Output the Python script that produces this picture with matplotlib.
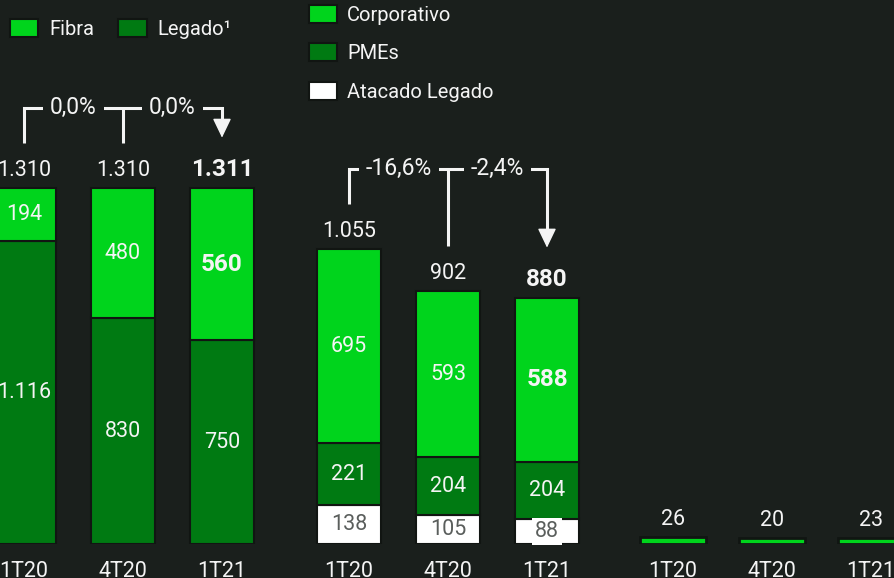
import matplotlib
matplotlib.use('Agg')
import matplotlib.pyplot as plt

# dados
quarters = ['1T20', '4T20', '1T21']
fibra = [194, 480, 560]
legado = [1116, 830, 750]
totais_fibra = [1310, 1310, 1311]
var_fibra = ['0,0%', '0,0%']

corporativo = [695, 593, 588]
pmes = [221, 204, 204]
atacado = [138, 105, 88]
totais_b2b = [1055, 902, 880]
var_b2b = ['-16,6%', '-2,4%']

outros = [26, 20, 23]

BG = '#1a1f1c'
VERDE = '#00d41c'
VERDE_ESC = '#007a12'
BRANCO = '#f4f4f4'
CINZA = '#5a5e5c'
BORDA = '#111512'

FS = 15.5       # normal labels
FS_B = 17.5     # bold labels

plt.rcParams['font.family'] = ['Roboto', 'DejaVu Sans']

W, H = 894, 578
fig = plt.figure(figsize=(W / 100, H / 100), dpi=100, facecolor=BG)


def make_ax(center_px, scale):
    # baseline at 544px from the top, 99px between bars
    bottom = H - 544
    left = center_px - 49.5
    ax = fig.add_axes([left / W, bottom / H, 297 / W, (H - bottom) / H])
    ax.set_facecolor('none')
    ax.set_xlim(-0.5, 2.5)
    ax.set_ylim(0, (H - bottom) / scale)
    for s in ax.spines.values():
        s.set_visible(False)
    ax.set_yticks([])
    ax.set_xticks(range(3))
    ax.set_xticklabels(quarters, color=BRANCO, fontsize=FS)
    ax.tick_params(axis='x', length=0, pad=12)
    return ax


def fmt(v):
    return f'{v:,}'.replace(',', '.')


def top_labels(ax, totals):
    for i, t in enumerate(totals):
        bold = i == 2
        ax.annotate(fmt(t), (i, t), xytext=(0, 5), textcoords='offset points',
                    ha='center', va='bottom', color=BRANCO,
                    fontsize=FS_B if bold else FS,
                    fontweight='bold' if bold else 'normal')


def seg_labels(ax, vals, bottoms, color=BRANCO, bold_last=True, box=None):
    for i, (v, b) in enumerate(zip(vals, bottoms)):
        bold = bold_last and i == 2
        ax.text(i, b + v / 2, fmt(v), ha='center', va='center',
                color=color, fontsize=FS_B if bold else FS,
                fontweight='bold' if bold else 'normal',
                bbox=box if (box and i == 2) else None)


def bracket(ax, totals, labels, scale):
    k = 1 / scale
    y_line = max(totals) + 80 * k
    tip = totals[2] + 50 * k
    ax.plot([0, 0, 2, 2], [totals[0] + 45 * k, y_line, y_line, tip + 12 * k],
            color=BRANCO, lw=2.2, solid_joinstyle='miter', solid_capstyle='butt',
            clip_on=False)
    ax.plot([1, 1], [y_line, totals[1] + 45 * k], color=BRANCO, lw=2.2,
            solid_capstyle='butt', clip_on=False)
    ax.annotate('', xy=(2, tip), xytext=(2, tip + 18 * k),
                arrowprops=dict(arrowstyle='-|>,head_length=0.75,head_width=0.36',
                                color=BRANCO, lw=1, shrinkA=0, shrinkB=0,
                                mutation_scale=16))
    for i, lab in enumerate(labels):
        ax.text(i + 0.5, y_line, lab, ha='center', va='center', color=BRANCO,
                fontsize=16.5, zorder=5,
                bbox=dict(boxstyle='square,pad=0.3', fc=BG, ec='none'))


x = list(range(3))
bw = 0.64

# Fibra / Legado
s1 = 0.2718
ax1 = make_ax(24, s1)
b_leg = ax1.bar(x, legado, bw, color=VERDE_ESC, edgecolor=BORDA, lw=1.5)
b_fib = ax1.bar(x, fibra, bw, bottom=legado, color=VERDE, edgecolor=BORDA, lw=1.5)
seg_labels(ax1, legado, [0, 0, 0], bold_last=False)
seg_labels(ax1, fibra, legado)
top_labels(ax1, totais_fibra)
bracket(ax1, totais_fibra, var_fibra, s1)

# Corporativo / PMEs / Atacado
s2 = 0.28
ax2 = make_ax(349, s2)
base_pme = atacado
base_corp = [a + p for a, p in zip(atacado, pmes)]
b_ata = ax2.bar(x, atacado, bw, color='white', edgecolor=BORDA, lw=1.5)
b_pme = ax2.bar(x, pmes, bw, bottom=base_pme, color=VERDE_ESC, edgecolor=BORDA, lw=1.5)
b_corp = ax2.bar(x, corporativo, bw, bottom=base_corp, color=VERDE, edgecolor=BORDA, lw=1.5)
seg_labels(ax2, atacado, [0, 0, 0], color=CINZA, bold_last=False,
           box=dict(boxstyle='square,pad=0.15', fc='white', ec='none'))
seg_labels(ax2, pmes, base_pme, bold_last=False)
seg_labels(ax2, corporativo, base_corp)
top_labels(ax2, totais_b2b)
bracket(ax2, totais_b2b, var_b2b, s2)

# outros
ax3 = make_ax(673, s2)
ax3.bar(x, outros, 0.67, color=VERDE, edgecolor=BORDA, lw=2)
for i, v in enumerate(outros):
    ax3.annotate(str(v), (i, v), xytext=(0, 5), textcoords='offset points',
                 ha='center', va='bottom', color=BRANCO, fontsize=FS)

# legendas
fig.legend([b_fib, b_leg], ['Fibra', 'Legado\u00b9'], loc='upper left',
           bbox_to_anchor=(10 / W, 1 - 19 / H), ncol=2, frameon=False,
           fontsize=14.5, labelcolor=BRANCO, handlelength=1.4, handleheight=1.0,
           handletextpad=0.55, columnspacing=1.2, borderpad=0, borderaxespad=0)
fig.legend([b_corp, b_pme, b_ata], ['Corporativo', 'PMEs', 'Atacado Legado'],
           loc='upper left', bbox_to_anchor=(309 / W, 1 - 5 / H), ncol=1,
           frameon=False, fontsize=14.5, labelcolor=BRANCO, handlelength=1.4,
           handleheight=1.0, handletextpad=0.5, labelspacing=0.92,
           borderpad=0, borderaxespad=0)

fig.savefig('out.png', dpi=100, facecolor=BG)
